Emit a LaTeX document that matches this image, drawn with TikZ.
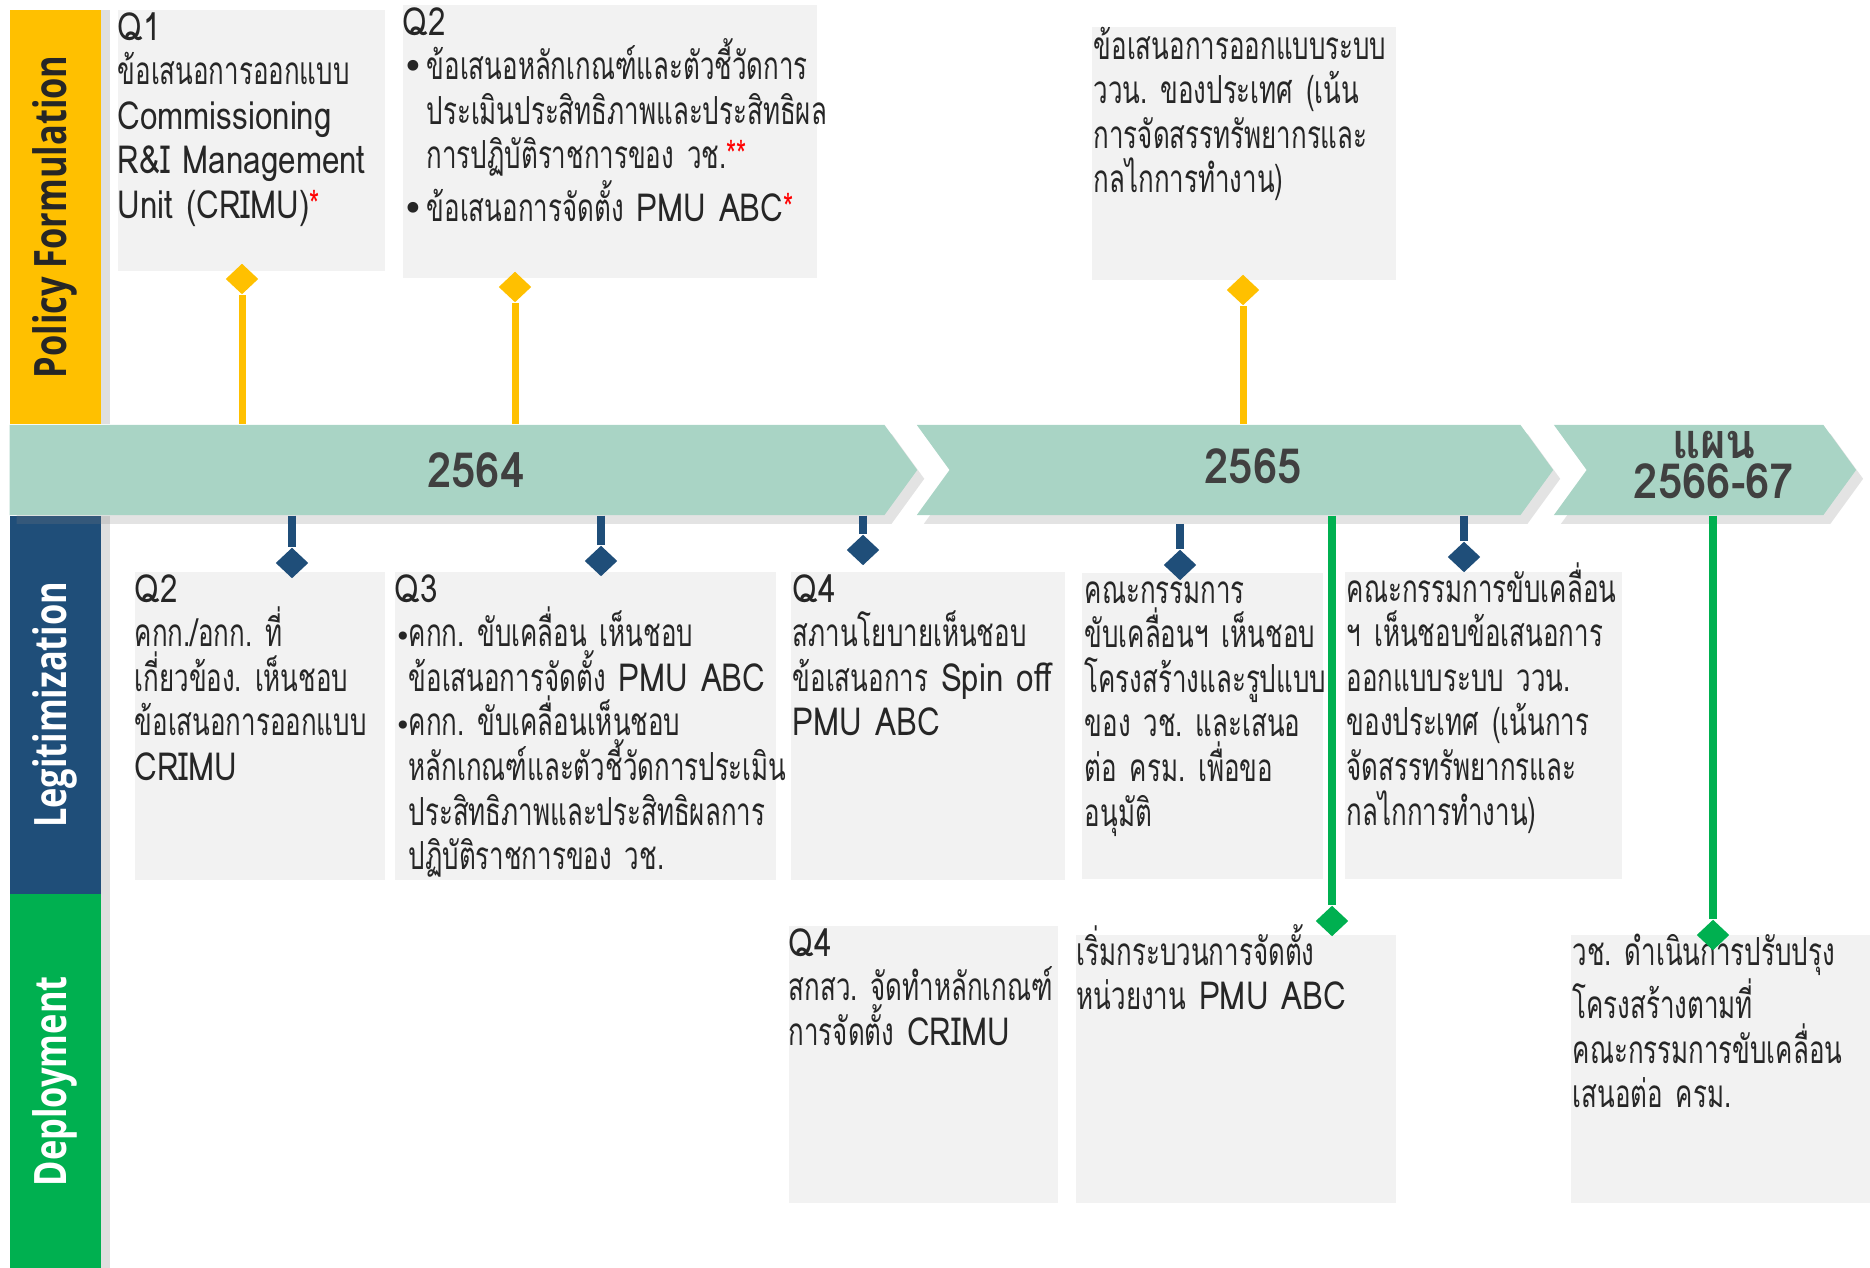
\documentclass[tikz,border=0pt]{standalone}
\usepackage{fontspec}
\usetikzlibrary{positioning,shapes.geometric,shapes.symbols,shadows}
\newfontfamily\thaifont[Script=Thai,FakeStretch=0.67]{Loma}
\newfontfamily\latfont[FakeStretch=0.81]{Loma}
\newfontfamily\yearfont[Script=Thai,FakeStretch=0.9]{Loma}
\newfontfamily\lanefont[FakeStretch=0.77]{Open Sans}
\newfontfamily\dotfont{DejaVu Sans}
\definecolor{pfyellow}{HTML}{FFC000}
\definecolor{lgblue}{HTML}{1F4E79}
\definecolor{dpgreen}{HTML}{00B050}
\definecolor{bandteal}{HTML}{A9D4C5}
\definecolor{cardgrey}{HTML}{F2F2F2}
\definecolor{yeargrey}{HTML}{404040}
\newcommand{\dotb}{{\dotfont\fontsize{8}{8}\selectfont •}}
\newcommand{\dotB}{{\dotfont\fontsize{10.5}{10}\selectfont •}}
\newcommand{\redst}[1]{{\color{red}#1}}
\newcommand{\lat}[1]{{\latfont #1}}
\lineskiplimit=-20pt
\spaceskip=3pt plus 1pt minus .5pt
\frenchspacing

\begin{document}
\begin{tikzpicture}[x=0.01cm,y=-0.01cm]
  \tikzstyle{lanebar}=[rectangle,inner sep=0pt,anchor=north west,minimum width=0.91cm,
    drop shadow={shadow xshift=2.5pt,shadow yshift=0pt,opacity=.25}]
  \tikzstyle{lane}=[rotate=90,inner sep=0pt,font=\lanefont\bfseries\fontsize{12.7}{14}\selectfont]
  \tikzstyle{band}=[signal,signal to=east,signal pointer angle=108,fill=bandteal,inner sep=0pt,
    minimum height=0.9cm,drop shadow={shadow xshift=2pt,shadow yshift=-2.5pt,opacity=.22}]
  \tikzstyle{year}=[text=yeargrey,align=center,inner sep=0pt,font=\yearfont\bfseries\fontsize{13.8}{11.6}\selectfont]
  \tikzstyle{card}=[rectangle,fill=cardgrey,inner sep=0pt,anchor=north west]
  \tikzstyle{txt}=[anchor=base west,inner sep=0pt,text width=5cm,align=left,text=black!85,
    font=\thaifont\fontsize{11}{12.7}\selectfont]
  \tikzstyle{pin}=[diamond,inner sep=0pt,minimum width=0.33cm,minimum height=0.31cm]
  \tikzstyle{pfline}=[draw=pfyellow,line width=0.07cm]
  \tikzstyle{lgline}=[draw=lgblue,line width=0.075cm]
  \tikzstyle{dpline}=[draw=dpgreen,line width=0.075cm]

  \useasboundingbox (0,0) rectangle (1870,1268);

  % lanes
  \node [lanebar,fill=pfyellow,minimum height=4.14cm] (pf) at (9,9) {};
  \node [lanebar,fill=lgblue,minimum height=3.78cm] (lg) at (9,515) {};
  \node [lanebar,fill=dpgreen,minimum height=3.75cm] (dp) at (9,893) {};
  \node [lane,text=black!85] (pft) at (pf.center) {Policy Formulation};
  \node [lane,text=white] (lgt) at (lg.center) {Legitimization};
  \node [lane,text=white] (dpt) at (dp.center) {Deployment};

  % timeline
  \node [band,minimum width=9.07cm,anchor=west] (band1) at (9,470) {};
  \node [band,signal from=west,minimum width=6.36cm] (band2) at (1235,470) {};
  \node [band,signal from=west,minimum width=3.02cm] (band3) at (1705,470) {};
  \node [year] (y1) at (476,470) {2564};
  \node [year] (y2) at (1253,466) {2565};
  \node [year] (y3) at (1714,465) {แผน\\2566-67};

  % policy formulation
  \node [card,minimum width=2.67cm,minimum height=2.61cm] (pfq1) at (117,9) {};
  \node [txt] (pfq1t) at ([yshift=-.31cm]pfq1.north west)
    {\lat{Q1}\\ข้อเสนอการออกแบบ\\\lat{Commissioning}\\\lat{R\&I Management}\\\lat{Unit (CRIMU)}\redst{*}};
  \node [card,minimum width=4.14cm,minimum height=2.73cm] (pfq2) at (402,4) {};
  \node [txt] (pfq2t) at ([yshift=-.31cm]pfq2.north west)
    {\lat{Q2}\\
     \makebox[.24cm][l]{\dotB}ข้อเสนอหลักเกณฑ์และตัวชี้วัดการ\\
     \hspace*{.24cm}ประเมินประสิทธิภาพและประสิทธิผล\\
     \hspace*{.24cm}การปฏิบัติราชการของ วช.\redst{**}\\
     \makebox[.24cm][l]{\dotB}ข้อเสนอการจัดตั้ง \lat{PMU ABC}\redst{*}};
  \node [card,minimum width=3.04cm,minimum height=2.53cm] (pfsys) at (1091,26) {};
  \node [txt] (pfsyst) at ([xshift=.02cm,yshift=-.33cm]pfsys.north west)
    {ข้อเสนอการออกแบบระบบ\\ววน. ของประเทศ (เน้น\\การจัดสรรทรัพยากรและ\\กลไกการทำงาน)};

  % legitimization
  \node [card,minimum width=2.5cm,minimum height=3.08cm] (lgq2) at (134,571) {};
  \node [txt] (lgq2t) at ([yshift=-.31cm]lgq2.north west)
    {\lat{Q2}\\คกก./อกก. ที่\\เกี่ยวข้อง. เห็นชอบ\\ข้อเสนอการออกแบบ\\\lat{CRIMU}};
  \node [card,minimum width=3.81cm,minimum height=3.08cm] (lgq3) at (394,571) {};
  \node [txt] (lgq3t) at ([yshift=-.31cm]lgq3.north west)
    {\lat{Q3}\\
     \makebox[.14cm][l]{\dotb}คกก. ขับเคลื่อน เห็นชอบ\\
     \hspace*{.14cm}ข้อเสนอการจัดตั้ง \lat{PMU ABC}\\
     \makebox[.14cm][l]{\dotb}คกก. ขับเคลื่อนเห็นชอบ\\
     \hspace*{.14cm}หลักเกณฑ์และตัวชี้วัดการประเมิน\\
     \hspace*{.14cm}ประสิทธิภาพและประสิทธิผลการ\\
     \hspace*{.14cm}ปฏิบัติราชการของ วช.};
  \node [card,minimum width=2.74cm,minimum height=3.08cm] (lgq4) at (790,571) {};
  \node [txt] (lgq4t) at ([xshift=.02cm,yshift=-.31cm]lgq4.north west)
    {\lat{Q4}\\สภานโยบายเห็นชอบ\\ข้อเสนอการ \lat{Spin off}\\\lat{PMU ABC}};
  \node [card,minimum width=2.41cm,minimum height=3.06cm] (lgcom) at (1081,572) {};
  \node [txt] (lgcomt) at ([xshift=.03cm,yshift=-.31cm]lgcom.north west)
    {คณะกรรมการ\\ขับเคลื่อนฯ เห็นชอบ\\โครงสร้างและรูปแบบ\\ของ วช. และเสนอ\\ต่อ ครม. เพื่อขอ\\อนุมัติ};
  \node [card,minimum width=2.77cm,minimum height=3.07cm] (lgsys) at (1344,571) {};
  \node [txt] (lgsyst) at ([xshift=.02cm,yshift=-.31cm]lgsys.north west)
    {คณะกรรมการขับเคลื่อน\\ฯ เห็นชอบข้อเสนอการ\\ออกแบบระบบ ววน.\\ของประเทศ (เน้นการ\\จัดสรรทรัพยากรและ\\กลไกการทำงาน)};

  % deployment
  \node [card,minimum width=2.69cm,minimum height=2.77cm] (dpq4) at (788,925) {};
  \node [txt] (dpq4t) at ([yshift=-.31cm]dpq4.north west)
    {\lat{Q4}\\สกสว. จัดทำหลักเกณฑ์\\การจัดตั้ง \lat{CRIMU}};
  \node [card,minimum width=3.2cm,minimum height=2.68cm] (dppmu) at (1075,934) {};
  \node [txt] (dppmut) at ([xshift=.01cm,yshift=-.31cm]dppmu.north west)
    {เริ่มกระบวนการจัดตั้ง\\หน่วยงาน \lat{PMU ABC}};
  \node [card,minimum width=3cm,minimum height=2.68cm] (dpadj) at (1570,934) {};
  \node [txt] (dpadjt) at ([xshift=.02cm,yshift=-.31cm]dpadj.north west)
    {วช. ดำเนินการปรับปรุง\\โครงสร้างตามที่\\คณะกรรมการขับเคลื่อน\\เสนอต่อ ครม.};

  % pins
  \node [pin,fill=pfyellow] (yd1) at (242,279) {};
  \node [pin,fill=pfyellow] (yd2) at (515,287) {};
  \node [pin,fill=pfyellow] (yd3) at (1243,290) {};
  \node [pin,fill=lgblue] (bd1) at (292,563) {};
  \node [pin,fill=lgblue] (bd2) at (601,561) {};
  \node [pin,fill=lgblue] (bd3) at (863,550) {};
  \node [pin,fill=lgblue] (bd4) at (1180,565) {};
  \node [pin,fill=lgblue] (bd5) at (1464,557) {};
  \node [pin,fill=dpgreen] (gd1) at (1332,921) {};
  \node [pin,fill=dpgreen] (gd2) at (1713,935) {};
  \coordinate (bd4top) at (1180,524);

  \draw [pfline] (yd1) -- (yd1 |- band1.north);
  \draw [pfline] (yd2) -- (yd2 |- band1.north);
  \draw [pfline] (yd3) -- (yd3 |- band2.north);
  \draw [lgline] (bd1 |- band1.south) -- (bd1);
  \draw [lgline] (bd2 |- band1.south) -- (bd2);
  \draw [lgline] (bd3 |- band1.south) -- (bd3);
  \draw [lgline] (bd4top) -- (bd4);
  \draw [lgline] (bd5 |- band2.south) -- (bd5);
  \draw [dpline] (gd1 |- band2.south) -- (gd1);
  \draw [dpline] (gd2 |- band3.south) -- (gd2);
\end{tikzpicture}
\end{document}
